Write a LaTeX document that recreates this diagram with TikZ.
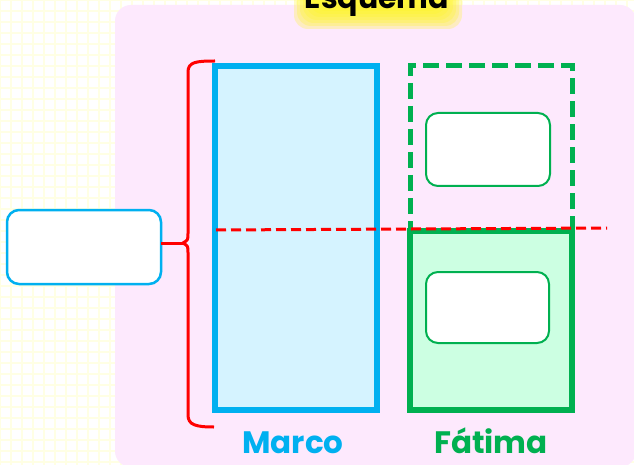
\documentclass[tikz,border=0pt]{standalone}
\usepackage{fontspec}
\setmainfont{Poppins}
\definecolor{gridc}{RGB}{255,255,228}
\definecolor{pinkbg}{RGB}{253,233,253}
\definecolor{cyanc}{RGB}{0,176,240}
\definecolor{cyanfill}{RGB}{213,243,255}
\definecolor{greenc}{RGB}{0,176,80}
\definecolor{greenfill}{RGB}{204,255,226}
\definecolor{glowc}{RGB}{255,246,40}
\begin{document}
\begin{tikzpicture}[x=1pt,y=-1pt,
  bigbox/.style={draw, line width=6pt, rectangle, anchor=north west, inner sep=0pt, outer sep=0pt},
  smallbox/.style={draw, rounded corners=12pt, fill=white, rectangle, anchor=north west, inner sep=0pt, outer sep=0pt},
  lbl/.style={anchor=base, inner sep=0pt, font=\fontsize{31}{36}\selectfont\bfseries}
]
\useasboundingbox (0,0) rectangle (634,465);
% grid background
\fill[white] (0,0) rectangle (634,465);
\draw[gridc, line width=2.5pt] (-1,-1) grid[step=11pt] (640,470);
% pink panel
\fill[pinkbg, rounded corners=16pt] (115,5) rectangle (636,467);
% title glow
\foreach \d in {0,3,...,18}
  \fill[glowc, opacity=0.28, rounded corners=14pt] (294+\d,-14) rectangle (462-\d,29-\d);
\node[lbl, font=\fontsize{30}{34}\selectfont\bfseries] (title) at (377,9) {Esquema};
% Marco
\node[bigbox, draw=cyanc, fill=cyanfill, minimum width=162pt, minimum height=344pt] (marco) at (215,66) {};
% Fatima
\node[bigbox, draw=greenc, dash pattern=on 16pt off 7pt, line width=5pt, minimum width=162pt, minimum height=165pt] (fattop) at (410,66) {};
\node[bigbox, draw=greenc, fill=greenfill, minimum width=162pt, minimum height=179pt] (fatbot) at (410,231) {};
\node[smallbox, draw=greenc, line width=2pt, minimum width=124pt, minimum height=73pt] (inner1) at (426,113) {};
\node[smallbox, draw=greenc, line width=2pt, minimum width=123pt, minimum height=71pt] (inner2) at (426,272) {};
% red dashed line
\coordinate (dl) at (216,230);
\coordinate (dr) at (607,228);
\draw[red, line width=3pt, dash pattern=on 10pt off 5pt] (dl) -- (dr);
% left box
\node[smallbox, draw=cyanc, line width=2.5pt, minimum width=154pt, minimum height=74pt] (left) at (7,210) {};
% brace
\coordinate (tip) at (183,243);
\draw[red, line width=3pt]
  (215,61) .. controls (196,61) and (188,62) .. (188,72) -- (188,233)
  .. controls (188,240) .. (tip) .. controls (188,246) .. (188,253) -- (188,415)
  .. controls (188,425) and (196,427) .. (214,427);
\draw[red, line width=3pt] (left.east |- tip) -- (tip);
% labels
\node[lbl, text=cyanc] (lmarco) at (293,453) {Marco};
\node[lbl, text=greenc] (lfat) at (491,453) {Fátima};
\end{tikzpicture}
\end{document}
